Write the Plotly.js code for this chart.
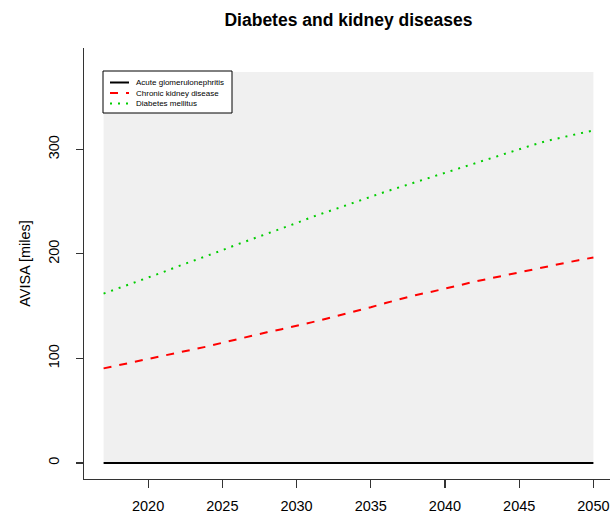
<!DOCTYPE html>
<html>
<head>
<meta charset="utf-8">
<script src="https://cdn.plot.ly/plotly-3.0.1.min.js"></script>
<style>
html,body{margin:0;padding:0;overflow:hidden;background:#fff;}
#chart{width:613px;height:514px;}
</style>
</head>
<body>
<div id="chart"></div>
<script>
const years = [2017,2018,2019,2020,2021,2022,2023,2024,2025,2026,2027,2028,2029,2030,2031,2032,2033,2034,2035,2036,2037,2038,2039,2040,2041,2042,2043,2044,2045,2046,2047,2048,2049,2050];
const acuteGlomerulonephritis = [0,0,0,0,0,0,0,0,0,0,0,0,0,0,0,0,0,0,0,0,0,0,0,0,0,0,0,0,0,0,0,0,0,0];
const chronicKidneyDisease = [90.5,93.5,96.5,99.5,102.5,105,108,111.5,115,118.5,121.5,125,128,131,134.5,138,141.5,145.5,149,153,157,160.5,163.5,166.5,170,173.5,176.5,179.5,182.5,185.5,188.5,191.5,194,196.5];
const diabetesMellitus = [162,167,172,177,182.5,188,193,198.5,203.5,209,214,219,224.5,229.5,235,240,245,249.5,254.5,259.5,264,268.5,273,277.5,282,286.5,291.5,296,300.5,304.5,308.5,312,315,318];
const seriesNames = ["Acute glomerulonephritis","Chronic kidney disease","Diabetes mellitus"];
const xTicks = [2020,2025,2030,2035,2040,2045,2050];
const yTicks = [0,100,200,300];

const FONT = "Liberation Sans, Arial, sans-serif";
const styles = [
  {color: "#000000", width: 2, dash: "solid"},
  {color: "#FF0000", width: 2, dash: "8px,8px"},
  {color: "#00CD00", width: 2, dash: "2px,6px"}
];
const seriesValues = [acuteGlomerulonephritis, chronicKidneyDisease, diabetesMellitus];

const traces = seriesValues.map((vals, i) => ({
  x: years, y: vals, name: seriesNames[i], mode: "lines", line: styles[i], showlegend: false
}));

// plot area geometry (px) for the hand-drawn legend box
const L = 84, W = 529, T = 48, H = 431;
const px2x = p => (p - L) / W;
const px2y = p => (T + H - p) / H;

const shapes = [
  {type: "rect", xref: "x", yref: "y", x0: years[0], x1: years[years.length-1], y0: 0, y1: 374,
   fillcolor: "#F0F0F0", line: {width: 0}, layer: "below"},
  {type: "rect", xref: "paper", yref: "paper", x0: px2x(103), x1: px2x(232), y0: px2y(113), y1: px2y(71),
   fillcolor: "#ffffff", line: {color: "#000", width: 1}, layer: "above"}
];
const annotations = [];
const rowY = [82.5, 93, 103.5];
seriesNames.forEach((name, i) => {
  shapes.push({type: "line", xref: "paper", yref: "paper", x0: px2x(110), x1: px2x(129),
               y0: px2y(rowY[i]), y1: px2y(rowY[i]), line: styles[i], layer: "above"});
  annotations.push({xref: "paper", yref: "paper", x: px2x(134), y: px2y(rowY[i]), text: name,
                    showarrow: false, xanchor: "left", yanchor: "middle",
                    font: {family: FONT, size: 8, color: "#000"}});
});

const layout = {
  width: 613, height: 514,
  margin: {l: L, r: 0, t: T, b: 35},
  paper_bgcolor: "#ffffff",
  plot_bgcolor: "#ffffff",
  font: {family: FONT, size: 14.5, color: "#000"},
  title: {text: "<b>Diabetes and kidney diseases</b>", font: {family: FONT, size: 17.5, color: "#000"},
          x: 0.5, xref: "paper", xanchor: "center", y: 0.961, yref: "container", yanchor: "middle"},
  showlegend: false,
  xaxis: {range: [2015.68, 2051.32], tickvals: xTicks, ticktext: xTicks.map(String),
          showgrid: false, zeroline: false, showline: true, linecolor: "#333", linewidth: 1.2, mirror: false,
          ticks: "outside", ticklen: 8, tickcolor: "#333", tickwidth: 1.2, ticklabelstandoff: 5,
          tickfont: {family: FONT, size: 14.5, color: "#000"}},
  yaxis: {range: [-15.3, 396.9], tickvals: yTicks, ticktext: yTicks.map(String), tickangle: -90,
          showgrid: false, zeroline: false, showline: true, linecolor: "#333", linewidth: 1.2, mirror: false,
          ticks: "outside", ticklen: 7, tickcolor: "#333", tickwidth: 1.2, ticklabelstandoff: 11,
          tickfont: {family: FONT, size: 14.5, color: "#000"},
          title: {text: "AVISA [miles]", font: {family: FONT, size: 14.5, color: "#000"}, standoff: 12}},
  shapes: shapes,
  annotations: annotations
};

Plotly.newPlot("chart", traces, layout, {displayModeBar: false, staticPlot: true});
</script>
</body>
</html>
